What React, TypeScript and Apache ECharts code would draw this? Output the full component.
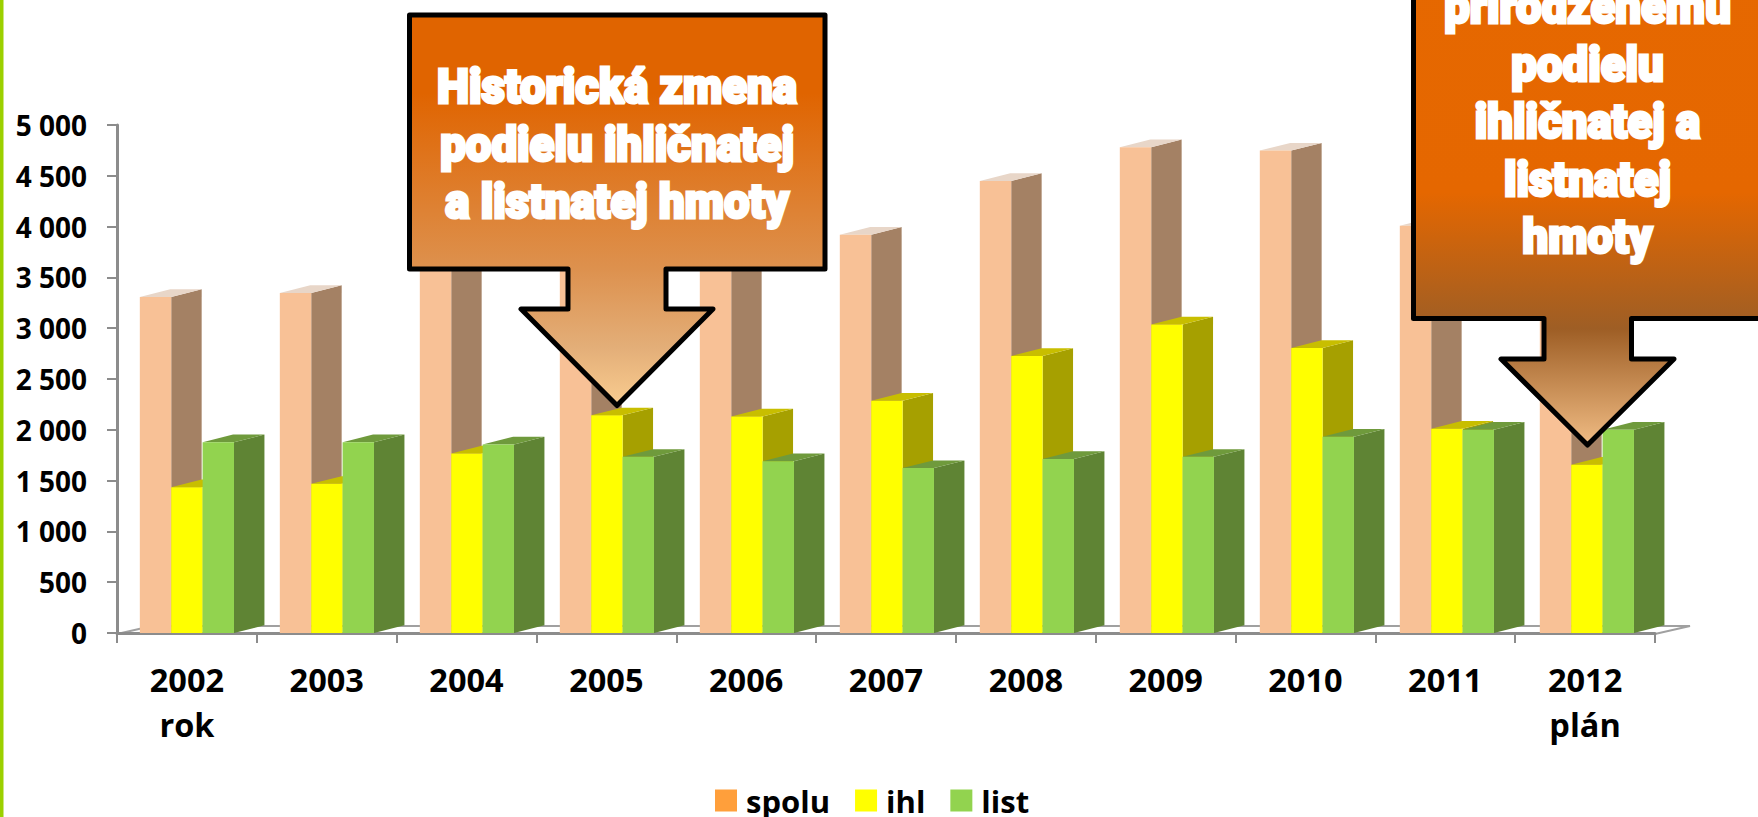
import React, { useEffect, useRef } from "react";
import * as echarts from "echarts";

const categories = ["2002\nrok", "2003", "2004", "2005", "2006", "2007", "2008", "2009", "2010", "2011", "2012\nplán"];
const spolu = [3307, 3346, 3622, 3876, 3821, 3920, 4450, 4781, 4748, 4009, 3658];
const ihl = [1435, 1468, 1767, 2142, 2131, 2286, 2727, 3037, 2805, 2010, 1657];
const list = [1877, 1877, 1855, 1734, 1690, 1623, 1712, 1734, 1932, 2001, 2001];

const callout1Lines = ["Historická zmena", "podielu ihličnatej", "a listnatej hmoty"];
const callout2Lines = ["prirodzenému", "podielu", "ihličnatej a", "listnatej", "hmoty"];

const faces: Record<string, { front: string; side: string; top: string }> = {
  spolu: { front: "#F8C196", side: "#A48164", top: "#E8D6C8" },
  ihl: { front: "#FFFF00", side: "#A6A000", top: "#C8BE00" },
  list: { front: "#92D34F", side: "#5F8434", top: "#6F9A3C" },
};

function makeSeries(name: string, values: number[], legendColor: string, slot: number) {
  const f = faces[name];
  return {
    name,
    type: "custom",
    itemStyle: { color: legendColor },
    data: values.map((v, i) => [i, v]),
    encode: { x: 0, y: 1 },
    clip: false,
    renderItem: (_p: any, api: any) => {
      const top = api.coord([api.value(0), api.value(1)]);
      const base = api.coord([api.value(0), 0]);
      const band = api.size([1, 0])[0];
      const w = band * 0.2245;
      const dx = w * 0.97;
      const dy = 7.7;
      const x0 = top[0] + api.value(0) * 0.18 + slot * w - w / 2;
      const x1 = x0 + w;
      const y0 = top[1];
      const y1 = base[1];
      return {
        type: "group",
        children: [
          {
            type: "polygon",
            shape: { points: [[x1, y0], [x1 + dx, y0 - dy], [x1 + dx, y1 - dy], [x1, y1]] },
            style: { fill: f.side },
          },
          {
            type: "polygon",
            shape: { points: [[x0, y0], [x0 + dx, y0 - dy], [x1 + dx, y0 - dy], [x1, y0]] },
            style: { fill: f.top },
          },
          { type: "rect", shape: { x: x0, y: y0, width: w, height: y1 - y0 }, style: { fill: f.front } },
        ],
      };
    },
  };
}

const calloutFont = '900 48px Roboto, Lato, sans-serif';

function textLine(text: string, x: number, baseline: number, scaleX: number) {
  return {
    type: "text",
    z: 101,
    x,
    y: baseline + 9,
    scaleX,
    style: {
      text,
      font: calloutFont,
      fill: "#fff",
      stroke: "#fff",
      lineWidth: 3,
      lineJoin: "round",
      align: "center",
      verticalAlign: "bottom",
    },
  };
}

export default function App() {
  const ref = useRef<HTMLDivElement>(null);
  useEffect(() => {
    document.body.style.margin = "0";
    const chart = echarts.init(ref.current!, null, { renderer: "svg" });
    const grad1 = new echarts.graphic.LinearGradient(0, 0, 0, 1, [
      { offset: 0, color: "#E06400" },
      { offset: 0.2, color: "#E06400" },
      { offset: 0.65, color: "#DD914E" },
      { offset: 0.85, color: "#E3AE78" },
      { offset: 1, color: "#F9CC90" },
    ]);
    const grad2 = new echarts.graphic.LinearGradient(0, 0, 0, 1, [
      { offset: 0, color: "#E66800" },
      { offset: 0.5, color: "#E56700" },
      { offset: 0.77, color: "#9E5E25" },
      { offset: 1, color: "#F0BC84" },
    ]);
    chart.setOption({
      animation: false,
      backgroundColor: "#fff",
      grid: { left: 117, top: 125, width: 1538, height: 508 },
      legend: {
        left: 710,
        top: 780,
        icon: "rect",
        itemWidth: 22,
        itemHeight: 22,
        itemGap: 25,
        selectedMode: false,
        textStyle: {
          fontFamily: "'Open Sans'",
          fontWeight: 700,
          fontSize: 31,
          lineHeight: 28,
          color: "#000",
          padding: [0, 0, 0, 4],
        },
      },
      xAxis: {
        type: "category",
        data: categories,
        boundaryGap: true,
        axisLine: { lineStyle: { color: "#8C8C8C", width: 3 } },
        axisTick: { show: true, alignWithLabel: false, length: 10, lineStyle: { color: "#8C8C8C", width: 2 } },
        axisLabel: {
          margin: 24,
          color: "#000",
          fontFamily: "'Open Sans'",
          fontWeight: 700,
          fontSize: 32.5,
          lineHeight: 45,
          interval: 0,
        },
      },
      yAxis: {
        type: "value",
        min: 0,
        max: 5000,
        interval: 500,
        splitLine: { show: false },
        axisLine: { show: true, lineStyle: { color: "#8C8C8C", width: 3 } },
        axisTick: { show: true, length: 10, lineStyle: { color: "#8C8C8C", width: 2 } },
        axisLabel: {
          margin: 30,
          color: "#000",
          fontFamily: "'Open Sans'",
          fontWeight: 700,
          fontSize: 28,
          formatter: (v: number) => String(v).replace(/\B(?=(\d{3})+$)/g, " "),
        },
      },
      series: [
        makeSeries("spolu", spolu, "#FF9F3B", -1),
        makeSeries("ihl", ihl, "#FFFF00", 0),
        makeSeries("list", list, "#92D34F", 1),
      ],
      graphic: [
        { type: "rect", z: 100, shape: { x: 0, y: 0, width: 3.5, height: 817 }, style: { fill: "#9BD000" } },
        {
          type: "polygon",
          z: 0,
          shape: { points: [[117, 634], [152, 626], [1690, 626], [1655, 634]] },
          style: { fill: "#fff", stroke: "#A0A0A0", lineWidth: 2 },
        },
        {
          type: "polygon",
          z: 100,
          shape: {
            points: [[409.5, 15], [825, 15], [825, 269], [666, 269], [666, 309], [713, 309], [617, 405.5], [521, 309], [568, 309], [568, 269], [409.5, 269]],
          },
          style: { fill: grad1, stroke: "#000", lineWidth: 5, lineJoin: "round" },
        },
        {
          type: "polygon",
          z: 100,
          shape: {
            points: [[1413.5, -60], [1765, -60], [1765, 318.5], [1631.5, 318.5], [1631.5, 359], [1674, 359], [1587.5, 445], [1501, 359], [1544, 359], [1544, 318.5], [1413.5, 318.5]],
          },
          style: { fill: grad2, stroke: "#000", lineWidth: 5, lineJoin: "round" },
        },
        ...callout1Lines.map((t, i) => textLine(t, 617, 102 + i * 57.5, 0.95)),
        ...callout2Lines.map((t, i) => textLine(t, 1587.5, 22 + i * 57.5, 0.95)),
      ],
    });
    return () => chart.dispose();
  }, []);
  return <div ref={ref} style={{ width: 1758, height: 817 }} />;
}
